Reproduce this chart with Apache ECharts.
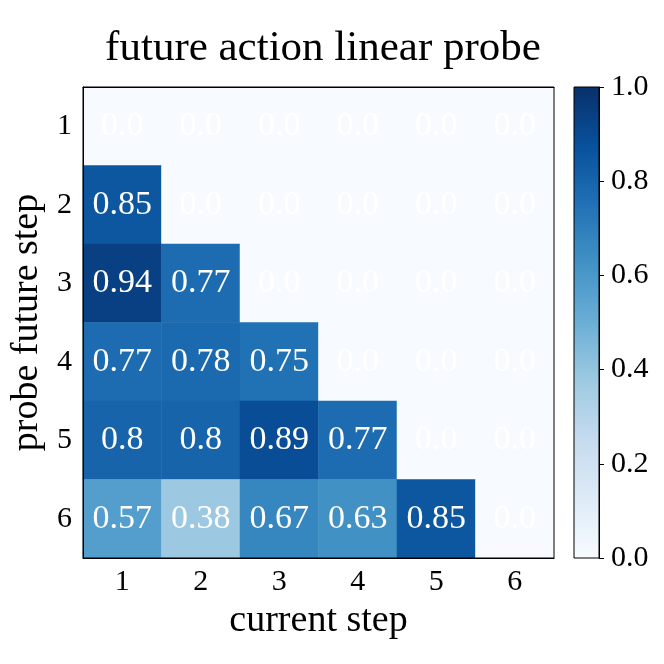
<!DOCTYPE html>
<html>
<head>
<meta charset="utf-8">
<script src="https://cdn.jsdelivr.net/npm/echarts@6/dist/echarts.min.js"></script>
<style>
  html, body { margin: 0; padding: 0; background: #fff; }
  #main { width: 664px; height: 664px; }
</style>
</head>
<body>
<div id="main"></div>
<script>
// current step (columns) and probe future step (rows)
var currentSteps = ['1', '2', '3', '4', '5', '6'];
var futureSteps = ['1', '2', '3', '4', '5', '6'];
// one row per probe future step
var row1 = [0, 0, 0, 0, 0, 0];
var row2 = [0.85, 0, 0, 0, 0, 0];
var row3 = [0.94, 0.77, 0, 0, 0, 0];
var row4 = [0.77, 0.78, 0.75, 0, 0, 0];
var row5 = [0.8, 0.8, 0.89, 0.77, 0, 0];
var row6 = [0.57, 0.38, 0.67, 0.63, 0.85, 0];
var rows = [row1, row2, row3, row4, row5, row6];
var colorbarTicks = [0, 0.2, 0.4, 0.6, 0.8, 1.0];

// matplotlib Blues
var blues = ['#f7fbff', '#deebf7', '#c6dbef', '#9ecae1', '#6baed6',
             '#4292c6', '#2171b5', '#08519c', '#08306b'];

var serif = '"Liberation Serif", "DejaVu Serif", serif';

var cells = [];
for (var r = 0; r < rows.length; r++) {
  for (var c = 0; c < rows[r].length; c++) {
    cells.push([c, r, rows[r][c]]);
  }
}

var stops = blues.map(function (col, i) {
  return { offset: i / (blues.length - 1), color: col };
});

var chart = echarts.init(document.getElementById('main'));
var option = {
  backgroundColor: '#fff',
  animation: false,
  title: {
    text: 'future action linear probe',
    left: 318,
    textAlign: 'center',
    top: 22,
    textStyle: { fontFamily: serif, fontSize: 43, fontWeight: 'normal', color: '#000' }
  },
  grid: [
    { left: 83, top: 87, width: 471, height: 471, show: true, borderColor: '#000', borderWidth: 1, z: 10 },
    { left: 574, top: 87, width: 25, height: 471, show: true, borderColor: '#000', borderWidth: 1, z: 10 }
  ],
  visualMap: {
    show: false,
    min: 0,
    max: 1,
    seriesIndex: 0,
    inRange: { color: blues }
  },
  xAxis: [
    {
      type: 'category', gridIndex: 0, data: currentSteps, position: 'bottom', z: 10,
      name: 'current step', nameLocation: 'middle', nameGap: 42,
      nameTextStyle: { fontFamily: serif, fontSize: 38, color: '#000' },
      axisLine: { lineStyle: { color: '#000' } },
      axisTick: { alignWithLabel: true, length: 6, lineStyle: { color: '#000' } },
      axisLabel: { fontFamily: serif, fontSize: 30, color: '#000', margin: 9 },
      splitLine: { show: false }
    },
    {
      type: 'category', gridIndex: 0, data: currentSteps, position: 'top', z: 10,
      axisLine: { lineStyle: { color: '#000' } },
      axisTick: { alignWithLabel: true, length: 5, lineStyle: { color: '#000' } },
      axisLabel: { show: false },
      splitLine: { show: false }
    },
    {
      type: 'category', gridIndex: 1, data: [''],
      axisLine: { show: false }, axisTick: { show: false }, axisLabel: { show: false }
    }
  ],
  yAxis: [
    {
      type: 'category', gridIndex: 0, data: futureSteps, inverse: true, z: 10,
      name: 'probe future step', nameLocation: 'middle', nameGap: 34,
      nameTextStyle: { fontFamily: serif, fontSize: 38, color: '#000' },
      axisLine: { lineStyle: { color: '#000' } },
      axisTick: { alignWithLabel: true, length: 6, lineStyle: { color: '#000' } },
      axisLabel: { fontFamily: serif, fontSize: 30, color: '#000', margin: 11 },
      splitLine: { show: false }
    },
    {
      type: 'value', gridIndex: 1, position: 'right', min: 0, max: 1, interval: 0.2, z: 10,
      axisLine: { show: true, lineStyle: { color: '#000' } },
      axisTick: { show: true, length: 5, lineStyle: { color: '#000' } },
      axisLabel: {
        fontFamily: serif, fontSize: 30, color: '#000', margin: 12,
        formatter: function (v) { return v.toFixed(1); }
      },
      splitLine: { show: false }
    }
  ],
  series: [
    {
      type: 'heatmap',
      xAxisIndex: 0,
      yAxisIndex: 0,
      data: cells,
      label: {
        show: true,
        color: '#fff',
        fontFamily: serif,
        fontSize: 34,
        formatter: function (p) {
          var v = p.value[2];
          return v === 0 ? '0.0' : String(v);
        }
      },
      itemStyle: { borderWidth: 0 },
      emphasis: { disabled: true }
    },
    {
      type: 'bar',
      xAxisIndex: 2,
      yAxisIndex: 1,
      data: [colorbarTicks[colorbarTicks.length - 1]],
      barWidth: '100%',
      itemStyle: {
        color: new echarts.graphic.LinearGradient(0, 1, 0, 0, stops)
      },
      silent: true
    }
  ]
};
chart.setOption(option);
</script>
</body>
</html>
